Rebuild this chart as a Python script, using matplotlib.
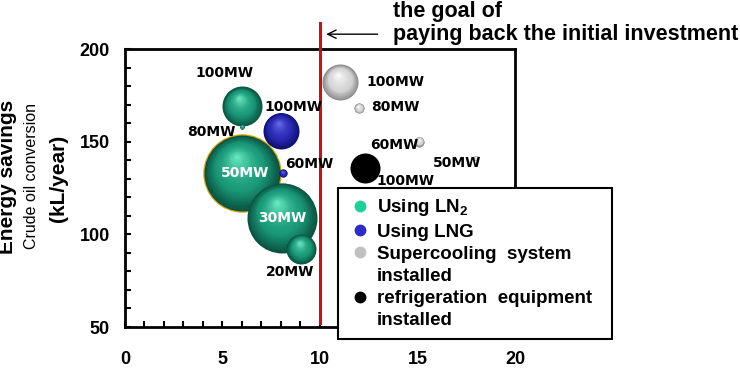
import numpy as np
import matplotlib
matplotlib.use('Agg')
import matplotlib.pyplot as plt
from matplotlib.colors import to_rgb
from matplotlib.lines import Line2D
from matplotlib.transforms import offset_copy

plt.rcParams['font.family'] = ['Liberation Sans', 'DejaVu Sans']
plt.rcParams['font.weight'] = 'bold'
plt.rcParams['mathtext.fontset'] = 'custom'
plt.rcParams['mathtext.rm'] = 'Liberation Sans'
plt.rcParams['mathtext.bf'] = 'Liberation Sans:bold'

# bubble data (x: payback years, y: energy savings kL/year, size: bubble size)
ln2_labels = ['100MW', '80MW', '50MW', '30MW', '20MW']
ln2_x = [6.0, 6.0, 6.0, 8.05, 9.05]
ln2_y = [169, 158, 133, 109, 92]
ln2_size = [20, 2, 38, 35, 15]

lng_labels = ['100MW', '60MW']
lng_x = [8.0, 8.1]
lng_y = [156, 133]
lng_size = [18, 4]

sc_labels = ['100MW', '80MW', '60MW', '50MW']
sc_x = [11.05, 12.0, 15.1, 18.0]
sc_y = [182, 168, 150, 141]
sc_size = [18, 5, 5, 2.5]

ref_labels = ['100MW']
ref_x = [12.3]
ref_y = [136]
ref_size = [15]

goal_x = 10

fig = plt.figure(figsize=(7.4, 3.69), dpi=100)
ax = fig.add_axes([0.1689, 0.1138, 0.527, 0.7534])
ax.set_xlim(0, 20)
ax.set_ylim(50, 200)


def mix(c1, c2, u):
    a, b = np.array(to_rgb(c1)), np.array(to_rgb(c2))
    return tuple(a + (b - a) * u)


def sphere(x, y, r, dark, mid, light, z, flat=False, edge=None):
    if edge is not None:
        ax.scatter([x], [y], s=(2 * (r + 1.2) * 0.72) ** 2, color=edge, lw=0, zorder=z)
    if flat:
        ax.scatter([x], [y], s=(2 * r * 0.72) ** 2, color=dark, lw=0, zorder=z + 0.01)
        return
    n = 30
    for i in range(n):
        t = i / n
        rr = r * (1 - t)
        tr = offset_copy(ax.transData, fig=fig, x=-0.15 * r * t, y=0.45 * r * t, units='dots')
        if t < 0.35:
            col = mix(dark, mid, t / 0.35)
        else:
            col = mix(mid, light, ((t - 0.35) / 0.65) ** 1.5)
        ax.scatter([x], [y], s=(2 * rr * 0.72) ** 2, color=col, lw=0,
                   transform=tr, zorder=z + 0.01 + i * 0.001)


g = ('#0a5240', '#1a9878', '#6ff0c8')
b = ('#101070', '#2a2ab5', '#7070f0')
w = ('#8a8a8a', '#d6d6d6', '#ffffff')

z = 3
for i in range(len(ln2_x)):
    sphere(ln2_x[i], ln2_y[i], ln2_size[i], *g, z=z,
           edge='#d9a400' if ln2_labels[i] == '50MW' else None)
    z += 1
for i in range(len(lng_x)):
    sphere(lng_x[i], lng_y[i], lng_size[i], *b, z=z)
    z += 1
for i in range(len(sc_x)):
    sphere(sc_x[i], sc_y[i], sc_size[i], *w, z=z)
    z += 1
for i in range(len(ref_x)):
    sphere(ref_x[i], ref_y[i], ref_size[i], 'black', 'black', 'black', z=z, flat=True)
    z += 1

# label offsets in pixels from bubble centre
ln2_off = [(-18, 33), (-31, -5), (3, 0), (0, 0), (-11, -23)]
lng_off = [(12, 24), (26, 9)]
sc_off = [(55, 0), (36, 1), (-25, -3), (-19, -5)]
ref_off = [(41, -13)]

def put_labels(labels, xs, ys, offs, colors):
    for lab, x, y, o, c in zip(labels, xs, ys, offs, colors):
        ax.annotate(lab, (x, y), xytext=o, textcoords='offset pixels', ha='center',
                    va='center', fontsize=10, fontweight='bold', color=c,
                    family='DejaVu Sans', zorder=30)

put_labels(ln2_labels, ln2_x, ln2_y, ln2_off, ['black', 'black', 'white', 'white', 'black'])
put_labels(lng_labels, lng_x, lng_y, lng_off, ['black'] * 2)
put_labels(sc_labels, sc_x, sc_y, sc_off, ['black'] * 4)
put_labels(ref_labels, ref_x, ref_y, ref_off, ['black'])

# goal line and arrow
ax.plot([goal_x, goal_x], [52, 214], color='#d01010', lw=2.2, clip_on=False, zorder=20)
ax.annotate('', xy=(10.18, 208), xytext=(13.1, 208),
            arrowprops=dict(arrowstyle='->,head_length=0.6,head_width=0.3', lw=1, color='black'),
            annotation_clip=False)
ax.text(13.73, 220, 'the goal of', ha='left', va='center', fontsize=15.5, clip_on=False)
ax.text(13.73, 208, 'paying back the initial investment', ha='left', va='center',
        fontsize=15.5, clip_on=False)

# axes styling
ax.set_xticks([0, 5, 10, 15, 20])
ax.set_xticks(np.arange(0, 21, 1), minor=True)
ax.set_yticks([50, 100, 150, 200])
ax.set_yticks(np.arange(50, 201, 10), minor=True)
ax.tick_params(which='both', direction='in', length=4, width=1.5, labelsize=13)
ax.tick_params(axis='x', pad=17)
ax.tick_params(axis='y', pad=11)
for s in ax.spines.values():
    s.set_linewidth(2)

fig.text(0.0108, 0.522, 'Energy savings', rotation=90, ha='center', va='center', fontsize=15)
fig.text(0.0419, 0.522, 'Crude oil conversion', rotation=90, ha='center', va='center',
         fontsize=11.5, fontweight='normal')
fig.text(0.0784, 0.516, '(kL/year)', rotation=90, ha='center', va='center', fontsize=15)

# legend: second lines get an invisible handle so markers sit on the first line
blank = Line2D([], [], ls='', marker='')
handles = [Line2D([], [], marker='o', ls='', color=c, markersize=7.5)
           for c in ['#1ccf9b', '#2c2cc8', '#c0c0c0', 'black']]
handles = handles[:3] + [blank] + handles[3:] + [blank]
names = [r'Using LN$_{\mathbf{2}}$', 'Using LNG', 'Supercooling  system', 'installed',
         'refrigeration  equipment  ', 'installed']
leg = ax.legend(handles, names, loc='upper left', bbox_to_anchor=(338 / 740, 1 - 188 / 369),
                bbox_transform=fig.transFigure, borderaxespad=0, fontsize=13.5,
                fancybox=False, framealpha=1, edgecolor='black', handlelength=1.3,
                handletextpad=0.28, borderpad=0.5, labelspacing=0.27)
leg.get_frame().set_linewidth(1.5)
leg.set_zorder(40)

fig.savefig('out.png', dpi=100)
